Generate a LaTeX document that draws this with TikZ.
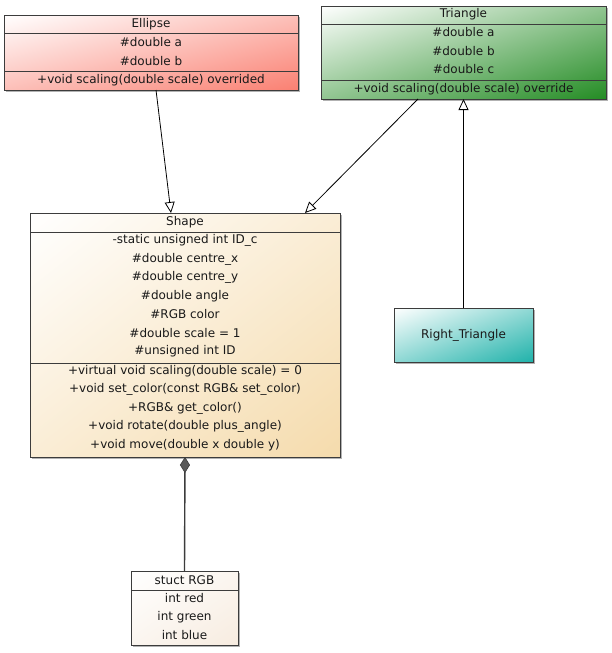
\documentclass[tikz,border=0pt]{standalone}
\usepackage{fontspec}
\setmainfont{DejaVu Sans}
\usetikzlibrary{arrows.meta,shadows,calc}
\definecolor{bord}{HTML}{3C3C3C}
\newcommand\mkdiagshade[4]{%
  \pgfdeclarefunctionalshading{#1}{\pgfpointorigin}{\pgfpoint{100bp}{100bp}}{}{%
    sub 50 add 100 div dup 0 lt {pop 0} if dup 1 gt {pop 1} if
    dup #2 mul 1 exch sub exch dup #3 mul 1 exch sub exch #4 mul 1 exch sub}}
\mkdiagshade{ellsh}{0.020}{0.498}{0.553}
\mkdiagshade{trish}{0.859}{0.451}{0.859}
\mkdiagshade{shpsh}{0.039}{0.141}{0.325}
\mkdiagshade{rgbsh}{0.031}{0.075}{0.122}
\mkdiagshade{rtsh}{0.875}{0.302}{0.333}
\begin{document}
\begin{tikzpicture}[x=1pt,y=-1pt,
  umlbox/.style={draw=bord, line width=1pt, shade, shading=#1, shading angle=0,
    drop shadow={shadow xshift=2pt,shadow yshift=-2pt,opacity=0.3,fill=black},
    inner sep=0pt, outer sep=0pt},
  txt/.style={font=\fontsize{12}{14}\selectfont, inner sep=0pt, text=black!90},
  sepline/.style={draw=bord, line width=1pt},
  inherit/.style={draw=black, line width=0.8pt, -{Triangle[length=11pt,width=10pt,fill=white]}},
  compose/.style={draw=bord, line width=1.4pt, {Diamond[length=16pt,width=10pt,fill=bord!85,line width=0.6pt]}-}
]
\useasboundingbox[fill=white] (0,0) rectangle (611,653);

% Ellipse
\node[umlbox=ellsh, minimum width=294pt, minimum height=75pt] (ellipse) at (151,52.5) {};
\draw[sepline] (ellipse.west |- 0,33) -- (ellipse.east |- 0,33);
\draw[sepline] (ellipse.west |- 0,71) -- (ellipse.east |- 0,71);
\node[txt] (e0) at (151,24) {Ellipse};
\node[txt] (e1) at (151,42.5) {\#double a};
\node[txt] (e2) at (151,61) {\#double b};
\node[txt] (e3) at (151,80) {+void scaling(double scale) overrided};

% Triangle
\node[umlbox=trish, minimum width=285pt, minimum height=93pt] (triangle) at (463.5,52.5) {};
\draw[sepline] (triangle.west |- 0,24) -- (triangle.east |- 0,24);
\draw[sepline] (triangle.west |- 0,80) -- (triangle.east |- 0,80);
\node[txt] (t0) at (463.5,14.5) {Triangle};
\node[txt] (t1) at (463.5,32.5) {\#double a};
\node[txt] (t2) at (463.5,51) {\#double b};
\node[txt] (t3) at (463.5,69.5) {\#double c};
\node[txt] (t4) at (463.5,89) {+void scaling(double scale) override};

% Shape
\node[umlbox=shpsh, minimum width=310pt, minimum height=244pt] (shape) at (185,335) {};
\draw[sepline] (shape.west |- 0,232) -- (shape.east |- 0,232);
\draw[sepline] (shape.west |- 0,363) -- (shape.east |- 0,363);
\node[txt] (s0) at (185,222) {Shape};
\node[txt] (s1) at (185,240.5) {-static unsigned int ID\_c};
\node[txt] (s2) at (185,259) {\#double centre\_x};
\node[txt] (s3) at (185,277.5) {\#double centre\_y};
\node[txt] (s4) at (185,296) {\#double angle};
\node[txt] (s5) at (185,314.5) {\#RGB color};
\node[txt] (s6) at (185,333) {\#double scale = 1};
\node[txt] (s7) at (185,351.5) {\#unsigned int ID};
\node[txt] (m1) at (185,371) {+virtual void scaling(double scale) = 0};
\node[txt] (m2) at (185,389.5) {+void set\_color(const RGB\& set\_color)};
\node[txt] (m3) at (185,408) {+RGB\& get\_color()};
\node[txt] (m4) at (185,426.5) {+void rotate(double plus\_angle)};
\node[txt] (m5) at (185,445) {+void move(double x double y)};

% RGB
\node[umlbox=rgbsh, minimum width=107pt, minimum height=74pt] (rgb) at (184.5,608) {};
\draw[sepline] (rgb.west |- 0,590) -- (rgb.east |- 0,590);
\node[txt] (r0) at (184.5,580) {stuct RGB};
\node[txt] (r1) at (184.5,598.5) {int red};
\node[txt] (r2) at (184.5,617) {int green};
\node[txt] (r3) at (184.5,635.5) {int blue};

% Right_Triangle
\node[umlbox=rtsh, minimum width=139pt, minimum height=54pt, txt] (rtri) at (463.5,335) {Right\_Triangle};

% connectors
\coordinate (ea) at ([xshift=5pt]ellipse.south);
\coordinate (sa) at ([xshift=-14pt]shape.north);
\coordinate (ta) at ([xshift=-45.5pt]triangle.south);
\coordinate (sb) at ([xshift=120pt]shape.north);
\draw[inherit] (ea) -- (sa);
\draw[inherit] (ta) -- (sb);
\draw[inherit] (rtri.north) -- (triangle.south);
\draw[compose] (shape.south) -- (rgb.north);
\end{tikzpicture}
\end{document}
